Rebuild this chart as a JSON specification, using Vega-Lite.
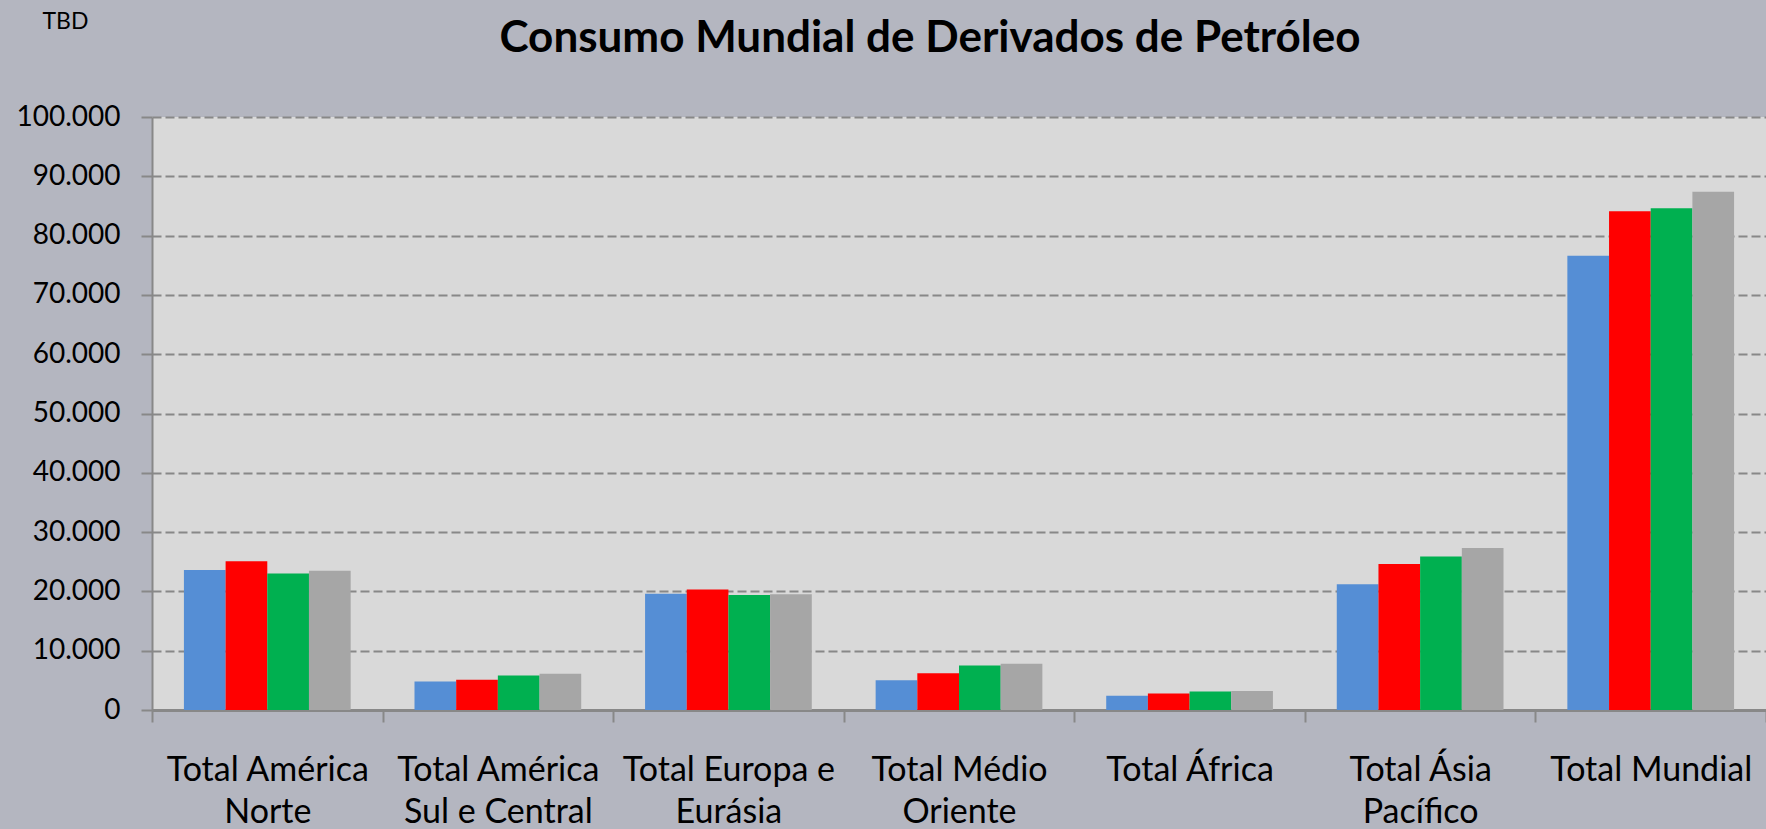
{
  "$schema": "https://vega.github.io/schema/vega-lite/v6.json",
  "autosize": {"type": "none"},
  "width": 1614,
  "height": 593,
  "padding": {"left": 152, "top": 117, "right": 0, "bottom": 119},
  "background": "#b4b6c0",
  "title": {
    "text": "Consumo Mundial de Derivados de Petróleo",
    "anchor": "middle",
    "font": "Lato",
    "fontSize": 44,
    "fontWeight": "bold",
    "color": "#000000",
    "baseline": "alphabetic",
    "dx": -29,
    "offset": -86
  },
  "config": {
    "view": {"fill": "#d9d9d9", "stroke": null}
  },
  "data": {
    "values": [
      {"regiao": "Total América Norte", "serie": "Série1", "valor": 23600},
      {"regiao": "Total América Norte", "serie": "Série2", "valor": 25100},
      {"regiao": "Total América Norte", "serie": "Série3", "valor": 23000},
      {"regiao": "Total América Norte", "serie": "Série4", "valor": 23500},
      {"regiao": "Total América Sul e Central", "serie": "Série1", "valor": 4800},
      {"regiao": "Total América Sul e Central", "serie": "Série2", "valor": 5100},
      {"regiao": "Total América Sul e Central", "serie": "Série3", "valor": 5800},
      {"regiao": "Total América Sul e Central", "serie": "Série4", "valor": 6100},
      {"regiao": "Total Europa e Eurásia", "serie": "Série1", "valor": 19600},
      {"regiao": "Total Europa e Eurásia", "serie": "Série2", "valor": 20300},
      {"regiao": "Total Europa e Eurásia", "serie": "Série3", "valor": 19400},
      {"regiao": "Total Europa e Eurásia", "serie": "Série4", "valor": 19500},
      {"regiao": "Total Médio Oriente", "serie": "Série1", "valor": 5000},
      {"regiao": "Total Médio Oriente", "serie": "Série2", "valor": 6200},
      {"regiao": "Total Médio Oriente", "serie": "Série3", "valor": 7500},
      {"regiao": "Total Médio Oriente", "serie": "Série4", "valor": 7800},
      {"regiao": "Total África", "serie": "Série1", "valor": 2400},
      {"regiao": "Total África", "serie": "Série2", "valor": 2800},
      {"regiao": "Total África", "serie": "Série3", "valor": 3100},
      {"regiao": "Total África", "serie": "Série4", "valor": 3200},
      {"regiao": "Total Ásia Pacífico", "serie": "Série1", "valor": 21200},
      {"regiao": "Total Ásia Pacífico", "serie": "Série2", "valor": 24600},
      {"regiao": "Total Ásia Pacífico", "serie": "Série3", "valor": 25900},
      {"regiao": "Total Ásia Pacífico", "serie": "Série4", "valor": 27300},
      {"regiao": "Total Mundial", "serie": "Série1", "valor": 76600},
      {"regiao": "Total Mundial", "serie": "Série2", "valor": 84100},
      {"regiao": "Total Mundial", "serie": "Série3", "valor": 84600},
      {"regiao": "Total Mundial", "serie": "Série4", "valor": 87400}
    ]
  },
  "mark": {"type": "bar"},
  "encoding": {
    "x": {
      "field": "regiao",
      "type": "nominal",
      "sort": null,
      "scale": {"paddingInner": 0, "paddingOuter": 0},
      "axis": {
        "title": null,
        "labelAngle": 0,
        "tickBand": "extent",
        "tickSize": 12,
        "tickColor": "#888888",
        "tickWidth": 2,
        "domainColor": "#888888",
        "domainWidth": 3,
        "labelFont": "Lato",
        "labelFontSize": 34,
        "labelColor": "#000000",
        "labelLineHeight": 42,
        "labelPadding": 31,
        "labelLimit": 400,
        "labelExpr": "datum.value == 'Total América Norte' ? ['Total América', 'Norte'] : datum.value == 'Total América Sul e Central' ? ['Total América', 'Sul e Central'] : datum.value == 'Total Europa e Eurásia' ? ['Total Europa e', 'Eurásia'] : datum.value == 'Total Médio Oriente' ? ['Total Médio', 'Oriente'] : datum.value == 'Total Ásia Pacífico' ? ['Total Ásia', 'Pacífico'] : datum.value"
      }
    },
    "xOffset": {
      "field": "serie",
      "type": "nominal",
      "scale": {"paddingInner": 0, "paddingOuter": 0.766}
    },
    "y": {
      "field": "valor",
      "type": "quantitative",
      "scale": {"domain": [0, 100000], "nice": false},
      "axis": {
        "values": [0, 10000, 20000, 30000, 40000, 50000, 60000, 70000, 80000, 90000, 100000],
        "labelExpr": "datum.value == 0 ? '0' : format(datum.value / 1000, 'd') + '.000'",
        "grid": true,
        "gridColor": "#888888",
        "gridDash": [9, 4],
        "gridWidth": 2,
        "domainColor": "#888888",
        "domainWidth": 2,
        "tickColor": "#888888",
        "tickWidth": 2,
        "tickSize": 11,
        "labelPadding": 21,
        "labelFont": "Lato",
        "labelFontSize": 28,
        "labelColor": "#000000",
        "title": "TBD",
        "titleAngle": 0,
        "titleX": -110,
        "titleY": -89,
        "titleAlign": "left",
        "titleBaseline": "alphabetic",
        "titleFont": "Lato",
        "titleFontSize": 23,
        "titleFontWeight": "normal",
        "titleColor": "#000000"
      }
    },
    "color": {
      "field": "serie",
      "type": "nominal",
      "legend": null,
      "scale": {
        "domain": ["Série1", "Série2", "Série3", "Série4"],
        "range": ["#558ed5", "#ff0000", "#00b050", "#a6a6a6"]
      }
    }
  }
}
